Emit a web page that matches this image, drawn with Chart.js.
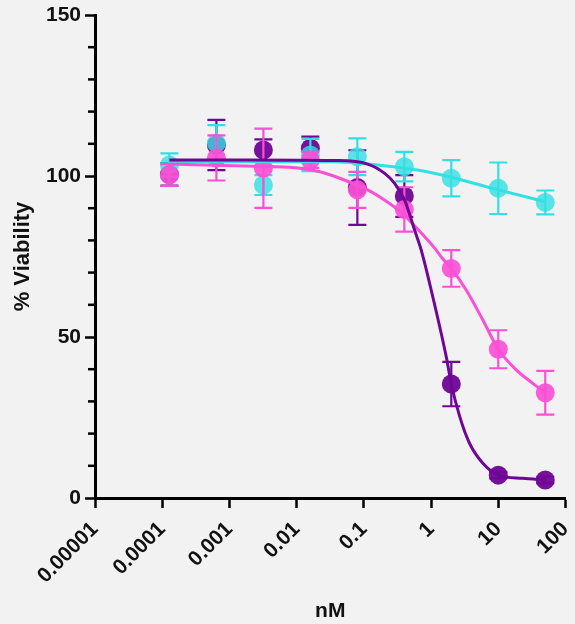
<!DOCTYPE html>
<html lang="en">
<head>
  <meta charset="UTF-8" />
  <title>% Viability vs nM</title>
  <script src="https://cdn.jsdelivr.net/npm/chart.js"></script>
  <style>
    body { margin: 0; background: #f2f2f2; }
    canvas { display: block; background: #f2f2f2; }
  </style>
</head>
<body>
<canvas id="viabilityChart" width="575" height="624"></canvas>
<script>
  // concentrations (nM), 5-fold dilution series
  const concentrations = [0.000128, 0.00064, 0.0032, 0.016, 0.08, 0.4, 2, 10, 50];

  const purpleMean = [100.5, 109.6, 108.1, 108.6, 96.4, 93.8, 35.4, 7.1, 5.6];
  const purpleSd   = [3.5, 7.8, 3.3, 3.6, 11.6, 6.5, 6.9, 1, 1];
  const pinkMean   = [100.3, 105.6, 102.4, 105, 95.7, 89.6, 71.3, 46.2, 32.7];
  const pinkSd     = [3.4, 7, 12.3, 2.5, 5.6, 6.9, 5.7, 5.9, 6.8];
  const cyanMean   = [103.4, 110.2, 97.2, 106.5, 106, 102.9, 99.3, 96.2, 91.8];
  const cyanSd     = [3.6, 5.6, 3.1, 5, 5.7, 4.6, 5.6, 8, 3.7];

  // fitted curves
  const purpleFitX = [0.000128, 0.002, 0.0368, 0.114, 0.204, 0.287, 0.404, 0.569, 0.714, 1.06, 1.68, 2.0, 2.65, 3.73, 5.89, 10, 22.9, 50];
  const purpleFitY = [105, 105, 104.8, 103.7, 100.8, 97.7, 92.5, 83.2, 77, 62.5, 43.9, 35.4, 25.5, 17, 10.8, 7.1, 6.1, 5.6];
  const pinkFitX = [0.000128, 0.00169, 0.00789, 0.022, 0.0437, 0.114, 0.204, 0.361, 0.652, 1.13, 1.5, 2.0, 3.33, 5.89, 10, 18.5, 32.6, 50];
  const pinkFitY = [103.7, 103.1, 102.7, 101.3, 99.3, 95.7, 92.5, 88.7, 83.2, 77.6, 74.2, 71.3, 64.6, 55.3, 46.2, 39.8, 35.6, 32.7];
  const cyanFitX = [0.000128, 0.002, 0.0368, 0.114, 0.4, 0.8, 2, 10, 50];
  const cyanFitY = [104.4, 104.4, 104.4, 103.7, 102.4, 101.5, 99.6, 95.7, 92];

  const xTickValues = [0.00001, 0.0001, 0.001, 0.01, 0.1, 1, 10, 100];
  const xTickLabels = ['0.00001', '0.0001', '0.001', '0.01', '0.1', '1', '10', '100'];
  const yMajorTicks = [0, 50, 100, 150];

  const PURPLE = 'rgb(112, 6, 150)';
  const PINK = 'rgb(250, 80, 214)';
  const CYAN = 'rgb(50, 224, 228)';
  const fontFamily = "'Liberation Sans', Arial, sans-serif";

  const pts = (xs, ys) => xs.map((x, i) => ({ x, y: ys[i] }));

  function markerSet(means, sds, color, fill, order) {
    return {
      data: pts(concentrations, means),
      errors: sds,
      errorColor: color,
      showLine: false,
      pointRadius: 9.5,
      pointBackgroundColor: fill,
      pointBorderWidth: 0,
      order
    };
  }

  function curveSet(xs, ys, color, order) {
    return {
      data: pts(xs, ys),
      showLine: true,
      borderColor: color,
      borderWidth: 3,
      pointRadius: 0,
      cubicInterpolationMode: 'monotone',
      order
    };
  }

  // error bars go under each dataset's own symbols
  const errorBars = {
    id: 'errorBars',
    beforeDatasetDraw(chart, args) {
      const ds = chart.data.datasets[args.index];
      if (!ds.errors) return;
      const { ctx } = chart;
      const xs = chart.scales.x, ys = chart.scales.y;
      ctx.save();
      ctx.strokeStyle = ds.errorColor;
      ctx.lineWidth = 2.2;
      ds.data.forEach((p, i) => {
        const px = xs.getPixelForValue(p.x);
        const top = ys.getPixelForValue(p.y + ds.errors[i]);
        const bot = ys.getPixelForValue(p.y - ds.errors[i]);
        ctx.beginPath();
        ctx.moveTo(px, top); ctx.lineTo(px, bot);
        ctx.moveTo(px - 9, top); ctx.lineTo(px + 9, top);
        ctx.moveTo(px - 9, bot); ctx.lineTo(px + 9, bot);
        ctx.stroke();
      });
      ctx.restore();
    }
  };

  // short ticks between the labelled ones on the y axis
  const minorTicks = {
    id: 'minorTicks',
    afterDraw(chart) {
      const { ctx } = chart;
      const ys = chart.scales.y;
      const x0 = chart.chartArea.left;
      ctx.save();
      ctx.strokeStyle = '#000';
      ctx.lineWidth = 2.5;
      ys.ticks.forEach(t => {
        if (yMajorTicks.includes(t.value)) return;
        const py = ys.getPixelForValue(t.value);
        ctx.beginPath();
        ctx.moveTo(x0 - 7, py); ctx.lineTo(x0, py);
        ctx.stroke();
      });
      ctx.restore();
    }
  };

  const tickFont = { family: fontFamily, size: 21, weight: 'bold' };
  const titleFont = { family: fontFamily, size: 21, weight: 'bold' };

  new Chart(document.getElementById('viabilityChart'), {
    type: 'scatter',
    data: {
      datasets: [
        curveSet(purpleFitX, purpleFitY, PURPLE, 1),
        curveSet(pinkFitX, pinkFitY, PINK, 2),
        curveSet(cyanFitX, cyanFitY, CYAN, 3),
        markerSet(pinkMean, pinkSd, PINK, 'rgba(250, 80, 214, 0.92)', 4),
        markerSet(cyanMean, cyanSd, CYAN, 'rgba(50, 224, 228, 0.8)', 5),
        markerSet(purpleMean, purpleSd, PURPLE, 'rgba(112, 6, 150, 0.95)', 6)
      ]
    },
    options: {
      responsive: false,
      animation: false,
      layout: { padding: { top: 15, right: 9, left: 0, bottom: 0 } },
      plugins: { legend: { display: false }, tooltip: { enabled: false } },
      scales: {
        x: {
          type: 'logarithmic',
          min: 0.00001,
          max: 100,
          afterBuildTicks: s => { s.ticks = xTickValues.map(v => ({ value: v })); },
          afterFit: s => { s.height = 126; s.paddingLeft = 0; s.paddingRight = 0; },
          ticks: {
            autoSkip: false,
            minRotation: 45,
            maxRotation: 45,
            padding: 9,
            color: '#111',
            font: tickFont,
            callback: v => xTickLabels[xTickValues.indexOf(v)]
          },
          grid: { drawOnChartArea: false, drawTicks: true, tickLength: 10, tickColor: '#000', tickWidth: 2.5 },
          border: { display: true, color: '#000', width: 3 },
          title: { display: true, text: 'nM', color: '#111', font: titleFont, padding: { top: 0, bottom: 0 } }
        },
        y: {
          min: 0,
          max: 150,
          afterFit: s => { s.width = 95; s.paddingTop = 0; s.paddingBottom = 0; },
          ticks: {
            stepSize: 10,
            autoSkip: false,
            padding: 4,
            color: '#111',
            font: tickFont,
            callback: v => yMajorTicks.includes(v) ? String(v) : ''
          },
          grid: {
            drawOnChartArea: false,
            drawTicks: true,
            tickLength: 10,
            tickWidth: 2.5,
            tickColor: c => yMajorTicks.includes(c.tick.value) ? '#000' : 'rgba(0,0,0,0)'
          },
          border: { display: true, color: '#000', width: 3 },
          title: { display: true, text: '% Viability', color: '#111', font: { family: fontFamily, size: 22, weight: 'bold' }, padding: { top: 10, bottom: 0 } }
        }
      }
    },
    plugins: [errorBars, minorTicks]
  });
</script>
</body>
</html>
